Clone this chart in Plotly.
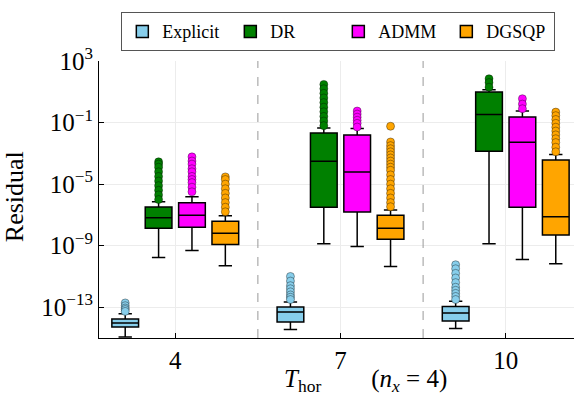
import plotly.graph_objects as go

# horizon lengths (x categories)
horizons = [4, 7, 10]
methods = ["Explicit", "DR", "ADMM", "DGSQP"]
colors = ["#87CEEB", "#008000", "#FF00FF", "#FFA500"]

# box statistics as log10(residual), one entry per horizon
explicit_q1 = [-14.28, -13.96, -13.89]
explicit_med = [-14.02, -13.31, -13.37]
explicit_q3 = [-13.76, -12.98, -12.95]
explicit_lo = [-14.93, -14.45, -14.39]
explicit_hi = [-13.42, -12.66, -12.62]

dr_q1 = [-7.87, -6.51, -2.86]
dr_med = [-7.18, -3.51, -0.47]
dr_q3 = [-6.49, -1.68, 0.98]
dr_lo = [-9.77, -8.87, -8.87]
dr_hi = [-6.14, -1.35, 1.13]

admm_q1 = [-7.80, -6.81, -6.51]
admm_med = [-7.03, -4.22, -2.28]
admm_q3 = [-6.21, -1.81, -0.64]
admm_lo = [-9.32, -9.06, -9.90]
admm_hi = [-5.82, -1.39, -0.25]

dgsqp_q1 = [-8.93, -8.58, -8.30]
dgsqp_med = [-8.19, -7.87, -7.12]
dgsqp_q3 = [-7.41, -7.03, -3.44]
dgsqp_lo = [-10.31, -10.35, -10.18]
dgsqp_hi = [-7.05, -6.68, -3.08]

# outliers (log10), per horizon
explicit_out = [[-12.72, -12.9, -13.05, -13.15, -13.27],
                [-11.0, -11.3, -11.6, -11.8, -12.0, -12.2, -12.35, -12.5],
                [-10.24, -10.5, -10.8, -11.1, -11.4, -11.7, -11.9, -12.1, -12.3, -12.5]]
dr_out = [[-3.55, -3.7, -3.9, -4.2, -4.5, -4.8, -5.1, -5.4, -5.7, -6.0],
          [1.48, 1.2, 0.9, 0.6, 0.3, 0.0, -0.3, -0.6, -0.9, -1.2],
          [1.85, 1.6, 1.3]]
admm_out = [[-3.23, -3.5, -3.7, -4.0, -4.2, -4.5, -4.7, -4.9, -5.2, -5.5],
            [-0.25, -0.45, -0.65, -0.85, -1.05, -1.29],
            [0.55, 0.2, -0.1]]
dgsqp_out = [[-4.53, -4.7, -5.0, -5.3, -5.6, -5.9, -6.2, -6.5, -6.8],
             [-1.24, -2.26, -2.5, -2.7, -2.9, -3.1, -3.3, -3.5, -3.7, -3.9, -4.1,
              -4.4, -4.7, -5.0, -5.3, -5.6, -5.9, -6.2, -6.47],
             [-0.32, -0.55, -0.8, -1.05, -1.3, -1.55, -1.8, -2.05, -2.3, -2.6, -2.9]]

stats = [
    (explicit_q1, explicit_med, explicit_q3, explicit_lo, explicit_hi, explicit_out),
    (dr_q1, dr_med, dr_q3, dr_lo, dr_hi, dr_out),
    (admm_q1, admm_med, admm_q3, admm_lo, admm_hi, admm_out),
    (dgsqp_q1, dgsqp_med, dgsqp_q3, dgsqp_lo, dgsqp_hi, dgsqp_out),
]
offsets = [-0.909, -0.303, 0.303, 0.909]

FONT = "Liberation Serif"

def lin(v):
    return [10 ** x for x in v]

fig = go.Figure()
for name, col, off, (q1, med, q3, lo, hi, out) in zip(methods, colors, offsets, stats):
    xs = [h + off for h in horizons]
    fig.add_trace(go.Box(
        x=xs, q1=lin(q1), median=lin(med), q3=lin(q3),
        lowerfence=lin(lo), upperfence=lin(hi),
        name=name, fillcolor=col, width=0.485, whiskerwidth=0.5,
        line=dict(color="black", width=1.5), boxpoints=False,
    ))
    ox, oy = [], []
    for x, pts in zip(xs, out):
        ox += [x] * len(pts)
        oy += lin(pts)
    fig.add_trace(go.Scatter(
        x=ox, y=oy, mode="markers", showlegend=False,
        marker=dict(color=col, size=8, line=dict(color="rgba(0,0,0,0.6)", width=0.6)),
    ))

for xv in [5.5, 8.5]:
    fig.add_vline(x=xv, line=dict(color="#999999", width=1, dash="dash"))

ytick_exp = [3, -1, -5, -9, -13]
fig.update_yaxes(
    type="log", range=[-15, 3], automargin=False,
    tickvals=[10 ** e for e in ytick_exp],
    ticktext=["10<sup><span style='font-size:17px'>%s</span></sup>" % str(e).replace("-", "\u2212")
              for e in ytick_exp],
    ticks="inside", ticklen=5, tickcolor="black",
    showline=True, linecolor="black", linewidth=1.2,
    showgrid=True, gridcolor="#ececec", zeroline=False,
    tickfont=dict(family=FONT, size=25, color="black"),
)
fig.update_xaxes(
    range=[2.615, 11.24], automargin=False,
    tickvals=horizons, ticktext=[str(h) for h in horizons],
    ticks="inside", ticklen=5, tickcolor="black",
    showline=True, linecolor="black", linewidth=1.2,
    showgrid=True, gridcolor="#ececec", zeroline=False,
    tickfont=dict(family=FONT, size=25, color="black"),
)
fig.add_annotation(
    text="Residual", textangle=-90,
    xref="paper", yref="paper", x=-0.178, y=0.51, xanchor="center", yanchor="middle",
    showarrow=False, font=dict(family=FONT, size=26, color="black"),
)
fig.add_annotation(
    text="<i>T</i><sub>hor</sub>&nbsp;&nbsp;&nbsp;&nbsp;&nbsp;&nbsp;&nbsp;&nbsp;(<i>n<sub>x</sub></i> = 4)",
    xref="paper", yref="paper", x=0.562, y=-0.153, yanchor="middle", showarrow=False,
    font=dict(family=FONT, size=25, color="black"),
)
fig.update_layout(
    width=574, height=396,
    margin=dict(l=99, r=0, t=61, b=58, autoexpand=False),
    plot_bgcolor="white", paper_bgcolor="white",
    boxmode="overlay",
    legend=dict(orientation="h", x=0.047, y=1.176, xanchor="left", yanchor="top",
                bordercolor="#555555", borderwidth=1,
                entrywidth=63, entrywidthmode="pixels",
                font=dict(family=FONT, size=18, color="black")),
)
fig.write_html("out.html", config={"displayModeBar": False})

# drop the default page margin so the figure sits at the window's corner
with open("out.html") as f:
    page = f.read()
page = page.replace("<head>", "<head><style>body{margin:0;overflow:hidden}</style>", 1)
with open("out.html", "w") as f:
    f.write(page)
